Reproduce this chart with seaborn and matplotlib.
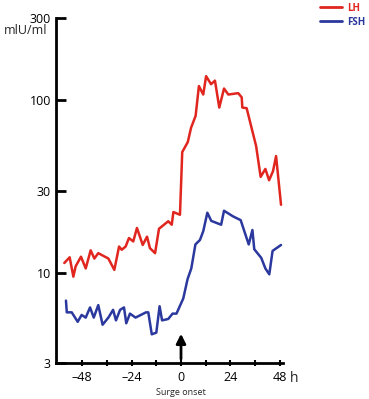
import pandas as pd
import numpy as np
import matplotlib
matplotlib.use('Agg')
import matplotlib.pyplot as plt
import seaborn as sns

# LH values (mIU/ml) against hours from surge onset
lh_hours = [-56.7, -54.1, -52.3, -51.2, -48.6, -46.3, -43.9, -42.1, -40.2, -35.3,
            -32.4, -30.1, -28.8, -26.9, -25.3, -23.2, -21.4, -18.6, -16.5, -15.1,
            -12.6, -10.7, -6.2, -4.5, -3.7, -0.5, 0.6, 3.3, 4.9, 7.1,
            8.7, 10.8, 12.2, 14.6, 16.5, 18.6, 20.9, 23.0, 27.8, 29.5,
            29.8, 31.9, 36.5, 38.7, 41.0, 42.8, 44.7, 46.2, 48.6]
lh_values = [11.4, 12.3, 9.5, 10.9, 12.4, 10.6, 13.5, 12.1, 13.0, 12.1,
             10.4, 14.2, 13.6, 14.2, 15.9, 15.2, 18.2, 14.5, 16.2, 13.9,
             13.0, 18.0, 19.9, 19.0, 22.5, 21.7, 50.1, 57.3, 69.4, 81.2,
             121, 108, 138, 124, 130, 90.8, 117, 108, 110, 104,
             90.8, 90, 54.3, 36.0, 40.0, 34.4, 38.8, 47.5, 24.8]

# FSH values (mIU/ml)
fsh_hours = [-55.9, -55.5, -53.1, -50.2, -48.3, -46.3, -44.2, -42.4, -40.2, -38.1,
             -35.3, -33.0, -31.6, -29.6, -27.7, -26.6, -24.8, -22.1, -17.0, -15.9,
             -14.2, -12.0, -10.4, -9.2, -6.2, -4.1, -2.2, 1.1, 3.2, 5.0,
             7.0, 9.2, 10.8, 12.8, 14.7, 19.5, 20.9, 25.4, 29.0, 32.9,
             34.7, 35.6, 39.0, 41.0, 42.9, 44.5, 48.6]
fsh_values = [6.9, 5.9, 5.9, 5.2, 5.7, 5.5, 6.3, 5.5, 6.5, 5.0,
              5.5, 6.1, 5.3, 6.1, 6.3, 5.1, 5.8, 5.5, 5.9, 5.9,
              4.4, 4.5, 6.4, 5.3, 5.4, 5.8, 5.8, 7.1, 9.2, 10.6,
              14.6, 15.5, 17.4, 22.3, 20.0, 19.0, 22.9, 21.2, 20.2, 14.6,
              17.7, 13.7, 12.2, 10.6, 9.8, 13.4, 14.5]

x_ticks = [-48, -36, -24, -12, 0, 12, 24, 36, 48]
x_labels = ['\u201348', '', '\u201324', '', '0', '', '24', '', '48']
y_ticks = [3, 10, 30, 100, 300]
y_labels = ['3', '10', '30', '100', '300']

df = pd.concat([
    pd.DataFrame({'hour': lh_hours, 'value': lh_values, 'hormone': 'LH'}),
    pd.DataFrame({'hour': fsh_hours, 'value': fsh_values, 'hormone': 'FSH'}),
], ignore_index=True)

sns.set_theme(style='ticks')
plt.rcParams['font.family'] = ['Open Sans', 'DejaVu Sans']

red = '#e0261f'
blue = '#2b389e'

fig = plt.figure(figsize=(3.69, 3.99), dpi=100)
ax = fig.add_axes([0.1531, 0.0902, 0.6146, 0.8647])

sns.lineplot(data=df, x='hour', y='value', hue='hormone', palette={'LH': red, 'FSH': blue},
             estimator=None, sort=False, linewidth=1.8, ax=ax, legend=False)

ax.set_yscale('log')
ax.set_ylim(3, 300)
ax.set_xlim(-60.5, 49.7)
ax.set_yticks(y_ticks)
ax.set_yticklabels(y_labels)
ax.minorticks_off()
ax.set_xticks(x_ticks)
ax.set_xticklabels(x_labels)
ax.set_xlabel('')
ax.set_ylabel('')

sns.despine(ax=ax)
for s in ['left', 'bottom']:
    ax.spines[s].set_linewidth(2)
    ax.spines[s].set_color('black')
ax.tick_params(axis='y', direction='in', length=7, width=2, pad=4, labelsize=9, colors='black')
ax.tick_params(axis='x', direction='inout', length=5, width=1.5, pad=3, labelsize=9, colors='black')

# units and extra labels
fig.text(47 / 369, 1 - 31 / 399, 'mlU/ml', ha='right', va='center', fontsize=9)
ax.text(1.03, -0.045, 'h', transform=ax.transAxes, ha='left', va='center', fontsize=10)
ax.text(0, -0.085, 'Surge onset', transform=ax.get_xaxis_transform(), ha='center',
        va='center', fontsize=6.5)

# surge onset arrow
ax.annotate('', xy=(0, 4.6), xytext=(0, 3.05),
            arrowprops=dict(arrowstyle='-|>', color='black', lw=2, mutation_scale=14),
            annotation_clip=False)

# legend
handles = [plt.Line2D([], [], color=red, lw=2), plt.Line2D([], [], color=blue, lw=2)]
leg = fig.legend(handles, ['LH', 'FSH'], loc='upper right', bbox_to_anchor=(1.015, 1.015),
                 frameon=False, handlelength=2.2, handletextpad=0.6, labelspacing=0.3,
                 prop={'weight': 'bold', 'size': 7})
for txt, c in zip(leg.get_texts(), [red, blue]):
    txt.set_color(c)

plt.savefig('out.png', dpi=100)
